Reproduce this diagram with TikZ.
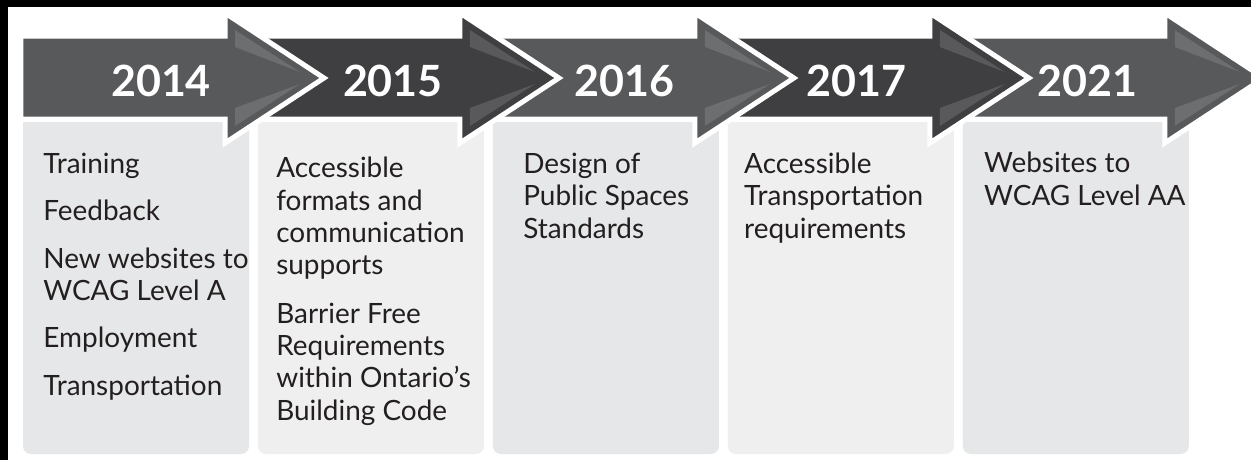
\documentclass[tikz,border=0pt]{standalone}
\usepackage{fontspec}
\setmainfont{Lato}

\definecolor{arrowlight}{HTML}{58595B}
\definecolor{arrowdark}{HTML}{3F3F41}
\definecolor{glintlight}{HTML}{6D6E70}
\definecolor{glintdark}{HTML}{59595B}
\definecolor{cardlight}{HTML}{E6E7E8}
\definecolor{cardpale}{HTML}{EFEFEF}
\definecolor{bodytext}{HTML}{231F20}

\begin{document}
\begin{tikzpicture}[x=0.02cm, y=-0.02cm,
    year/.style={text=white, inner sep=0, font=\fontsize{24.5}{25}\selectfont\bfseries},
    item/.style={anchor=base west, align=left, inner sep=0, text=bodytext,
                 font=\fontsize{15.9}{18.4}\selectfont},
    shell/.style={draw=white, line width=0.1cm, line join=miter}]

  \useasboundingbox (0,0) rectangle (1251,460);
  \fill[black] (0,0) rectangle (1251,460);
  \fill[white] (8,7) rectangle (1251,460);

  %%%%%%%%%%%%%%%%%%%%%%%%%%%%%%%%%%%%%%%%%%%%%%%%%
  \begin{scope}[xshift=18.8cm]
    % Card
    \fill[cardlight] (23,122) -- (249,122) -- (249,300) [rounded corners=0.16cm]
        -- (249,454) -- (23,454) -- (23,300) [sharp corners] -- cycle;
    % last line sits on the given baseline
    \node[item] (list2021) at (44,205) {Websites to\\WCAG Level AA};

    % Arrow
    \filldraw[fill=arrowlight, shell] (0,36) -- (225,36) -- (225,13) -- (324,78)
        -- (225,143) -- (225,119) -- (0,119) -- cycle;
    \fill[glintlight] (235,30) -- (300,72) -- (235,47) -- cycle;
    \fill[glintlight] (235,108) -- (300,84) -- (235,126) -- cycle;
    \node[year] (y2021) at (148,81) {2021};
  \end{scope}

  %%%%%%%%%%%%%%%%%%%%%%%%%%%%%%%%%%%%%%%%%%%%%%%%%
  \begin{scope}[xshift=14.1cm]
    % Card
    \fill[cardpale] (23,122) -- (249,122) -- (249,300) [rounded corners=0.16cm]
        -- (249,454) -- (23,454) -- (23,300) [sharp corners] -- cycle;
    \node[item] (list2017) at (39,238) {Accessible\\Transportation\\requirements};

    % Arrow
    \filldraw[fill=arrowdark, shell] (0,36) -- (225,36) -- (225,13) -- (324,78)
        -- (225,143) -- (225,119) -- (0,119) -- cycle;
    \fill[glintdark] (235,30) -- (300,72) -- (235,47) -- cycle;
    \fill[glintdark] (235,108) -- (300,84) -- (235,126) -- cycle;
    \node[year] (y2017) at (152,81) {2017};
  \end{scope}

  %%%%%%%%%%%%%%%%%%%%%%%%%%%%%%%%%%%%%%%%%%%%%%%%%
  \begin{scope}[xshift=9.4cm]
    % Card
    \fill[cardlight] (23,122) -- (249,122) -- (249,300) [rounded corners=0.16cm]
        -- (249,454) -- (23,454) -- (23,300) [sharp corners] -- cycle;
    \node[item] (list2016) at (53,238) {Design of\\Public Spaces\\Standards};

    % Arrow
    \filldraw[fill=arrowlight, shell] (0,36) -- (225,36) -- (225,13) -- (324,78)
        -- (225,143) -- (225,119) -- (0,119) -- cycle;
    \fill[glintlight] (235,30) -- (300,72) -- (235,47) -- cycle;
    \fill[glintlight] (235,108) -- (300,84) -- (235,126) -- cycle;
    \node[year] (y2016) at (155,81) {2016};
  \end{scope}

  %%%%%%%%%%%%%%%%%%%%%%%%%%%%%%%%%%%%%%%%%%%%%%%%%
  \begin{scope}[xshift=4.7cm]
    % Card
    \fill[cardpale] (23,122) -- (249,122) -- (249,300) [rounded corners=0.16cm]
        -- (249,454) -- (23,454) -- (23,300) [sharp corners] -- cycle;
    \node[item] (list2015) at (41,420) {Accessible\\formats and\\communication\\supports\\[0.32cm]
        Barrier Free\\Requirements\\within Ontario’s\\Building Code};

    % Arrow
    \filldraw[fill=arrowdark, shell] (0,36) -- (225,36) -- (225,13) -- (324,78)
        -- (225,143) -- (225,119) -- (0,119) -- cycle;
    \fill[glintdark] (235,30) -- (300,72) -- (235,47) -- cycle;
    \fill[glintdark] (235,108) -- (300,84) -- (235,126) -- cycle;
    \node[year] (y2015) at (158,81) {2015};
  \end{scope}

  %%%%%%%%%%%%%%%%%%%%%%%%%%%%%%%%%%%%%%%%%%%%%%%%%
  \begin{scope}
    % Card
    \fill[cardlight] (23,122) -- (249,122) -- (249,300) [rounded corners=0.16cm]
        -- (249,454) -- (23,454) -- (23,300) [sharp corners] -- cycle;
    \node[item] (list2014) at (43,395) {Training\\[0.3cm]Feedback\\[0.3cm]New websites to\\
        WCAG Level A\\[0.3cm]Employment\\[0.3cm]Transportation};

    % Arrow
    \filldraw[fill=arrowlight, shell] (21,36) -- (225,36) -- (225,13) -- (324,78)
        -- (225,143) -- (225,119) -- (21,119) -- cycle;
    \fill[glintlight] (235,30) -- (300,72) -- (235,47) -- cycle;
    \fill[glintlight] (235,108) -- (300,84) -- (235,126) -- cycle;
    \node[year] (y2014) at (161,81) {2014};
  \end{scope}

\end{tikzpicture}
\end{document}
